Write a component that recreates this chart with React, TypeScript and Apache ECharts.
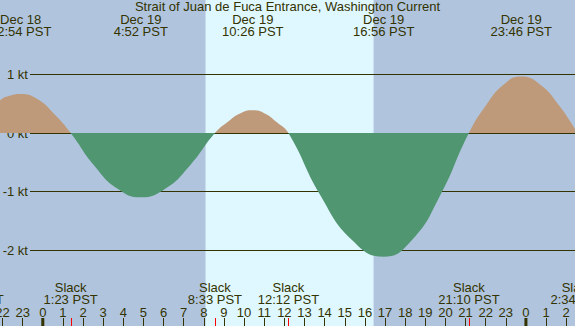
import React, { useEffect, useRef } from "react";
import * as echarts from "echarts";

const TITLE = "Strait of Juan de Fuca Entrance, Washington Current";

// Hours relative to Dec 19 00:00 PST, current in knots
const curveHours = [
  -6.8, -3.47, -2.68, -2.11, -1.6, -1.1, -0.27, 0.58, 1.3833,
  2.54, 3.7, 4.8667, 6.1, 7.32, 8.55,
  9.18, 9.8, 10.4333, 11.02, 11.61, 12.2,
  13.78, 15.36, 16.9333, 18.34, 19.75, 21.1667,
  22.03, 22.9, 23.7667, 24.7, 25.63, 26.5667, 27.6,
];
const curveKnots = [
  -1.2, 0, 0.32, 0.56, 0.64, 0.667, 0.58, 0.32, 0,
  -0.55, -0.95, -1.1, -0.95, -0.55, 0,
  0.19, 0.335, 0.388, 0.335, 0.19, 0,
  -1.06, -1.83, -2.116, -1.83, -1.06, 0,
  0.48, 0.83, 0.964, 0.83, 0.48, 0, -0.55,
];

const peakHours = [-1.1, 4.8667, 10.4333, 16.9333, 23.7667];
const peakDates = ["Dec 18", "Dec 19", "Dec 19", "Dec 19", "Dec 19"];
const peakTimes = ["22:54 PST", "4:52 PST", "10:26 PST", "16:56 PST", "23:46 PST"];

const slackHours = [-3.47, 1.3833, 8.55, 12.2, 21.1667, 26.5667];
const slackTimes = ["20:32 PST", "1:23 PST", "8:33 PST", "12:12 PST", "21:10 PST", "2:34 PST"];

const daylight = [[8.083, 16.433]];
const midnightHours = [0, 24];

const FONT = '"Liberation Sans", Arial, sans-serif';
const INK = "#333300";
const NIGHT = "#b0c4de";
const DAY = "#dff7ff";
const FLOOD = "#be9a7a";
const EBB = "#509671";

const PX_PER_KT = 58.5;
const ZERO_Y = 133;
const H = 326;

export default function App() {
  const ref = useRef<HTMLDivElement>(null);
  useEffect(() => {
    document.body.style.margin = "0";
    const chart = echarts.init(ref.current!, null, { renderer: "svg" });
    const textStyle = (text: string) => ({
      text,
      fill: INK,
      font: `13px ${FONT}`,
      align: "center",
      verticalAlign: "middle",
    });
    const option: any = {
      animation: false,
      backgroundColor: NIGHT,
      title: {
        text: TITLE,
        left: "center",
        top: 0,
        padding: 0,
        textStyle: { fontSize: 13, fontWeight: "normal", color: INK, fontFamily: FONT },
      },
      grid: [
        { left: -17.59, right: -11.31, top: 0, bottom: 0, outerBoundsMode: "none", containLabel: false },
        { left: 30, right: 0, top: ZERO_Y - PX_PER_KT, height: 3 * PX_PER_KT, outerBoundsMode: "none", containLabel: false },
      ],
      xAxis: [
        {
          type: "value",
          gridIndex: 0,
          position: "bottom",
          min: -3,
          max: 27,
          interval: 1,
          z: 3,
          axisLine: { show: false, onZero: false },
          splitLine: { show: false },
          axisTick: { show: true, inside: true, length: 8, lineStyle: { color: INK, width: 1 } },
          axisLabel: {
            inside: true,
            margin: 14,
            verticalAlign: "middle",
            color: INK,
            fontSize: 13,
            fontFamily: FONT,
            formatter: (v: number) => String((((v % 24) + 24) % 24)),
          },
        },
        { type: "value", gridIndex: 1, min: 0, max: 1, show: false },
      ],
      yAxis: [
        {
          type: "value",
          gridIndex: 0,
          min: -(H - ZERO_Y) / PX_PER_KT,
          max: ZERO_Y / PX_PER_KT,
          show: false,
        },
        {
          type: "value",
          gridIndex: 1,
          min: -2,
          max: 1,
          interval: 1,
          z: 1,
          axisLine: { show: false },
          axisTick: { show: false },
          splitLine: { show: true, lineStyle: { color: INK, width: 1 } },
          axisLabel: { margin: 2, color: INK, fontSize: 13, fontFamily: FONT, formatter: "{value} kt" },
        },
      ],
      visualMap: {
        type: "piecewise",
        show: false,
        seriesIndex: 1,
        dimension: 1,
        pieces: [
          { gt: 0, lte: 10, color: FLOOD },
          { gte: -10, lte: 0, color: EBB },
        ],
      },
      series: [
        {
          type: "custom",
          xAxisIndex: 0,
          yAxisIndex: 0,
          z: 0.5,
          silent: true,
          data: daylight,
          renderItem: (params: any, api: any) => {
            const x0 = api.coord([api.value(0), 0])[0];
            const x1 = api.coord([api.value(1), 0])[0];
            const cs = params.coordSys;
            return {
              type: "rect",
              shape: { x: x0, y: cs.y, width: x1 - x0, height: cs.height },
              style: { fill: DAY },
            };
          },
        },
        {
          type: "line",
          xAxisIndex: 0,
          yAxisIndex: 0,
          z: 2,
          smooth: 0.5,
          symbol: "none",
          showSymbol: false,
          lineStyle: { width: 0 },
          areaStyle: { opacity: 1 },
          data: curveHours.map((h, i) => [h, curveKnots[i]]),
        },
        {
          type: "custom",
          xAxisIndex: 0,
          yAxisIndex: 0,
          z: 3,
          silent: true,
          data: midnightHours.map((h) => [h, 0]),
          renderItem: (params: any, api: any) => {
            const x = api.coord([api.value(0), 0])[0];
            const cs = params.coordSys;
            return {
              type: "rect",
              shape: { x: x - 1.5, y: cs.y + cs.height - 8, width: 3, height: 8 },
              style: { fill: INK },
            };
          },
        },
        {
          type: "custom",
          xAxisIndex: 0,
          yAxisIndex: 0,
          z: 4,
          silent: true,
          data: peakHours.map((h) => [h, 0]),
          renderItem: (params: any, api: any) => {
            const i = params.dataIndex;
            const x = api.coord([api.value(0), 0])[0];
            return {
              type: "group",
              children: [
                { type: "text", x, y: 19.3, style: textStyle(peakDates[i]) },
                { type: "text", x, y: 31.5, style: textStyle(peakTimes[i]) },
              ],
            };
          },
        },
        {
          type: "custom",
          xAxisIndex: 0,
          yAxisIndex: 0,
          z: 4,
          silent: true,
          data: slackHours.map((h) => [h, 0]),
          renderItem: (params: any, api: any) => {
            const i = params.dataIndex;
            const x = api.coord([api.value(0), 0])[0];
            const cs = params.coordSys;
            const xr = Math.round(x) + 0.5;
            const yb = cs.y + cs.height;
            return {
              type: "group",
              children: [
                { type: "text", x, y: 287.2, style: textStyle("Slack") },
                { type: "text", x, y: 299.3, style: textStyle(slackTimes[i]) },
                {
                  type: "line",
                  shape: { x1: xr, y1: yb - 8, x2: xr, y2: yb },
                  style: { stroke: "#ff0000", lineWidth: 1 },
                },
              ],
            };
          },
        },
      ],
    };
    chart.setOption(option);
    return () => chart.dispose();
  }, []);
  return <div ref={ref} style={{ width: 575, height: 326 }} />;
}
